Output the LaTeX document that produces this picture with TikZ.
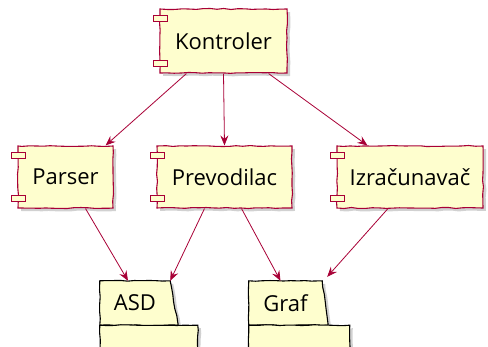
\documentclass[tikz,border=0pt]{standalone}
\usepackage{xcolor}
\usepackage{fontspec}
\setmainfont{Open Sans}
\usepackage{tikz}
\usetikzlibrary{positioning,calc,shadows,arrows.meta,decorations.pathmorphing}

\definecolor{umlred}{HTML}{A80036}
\definecolor{umlfill}{HTML}{FEFECE}

\tikzset{
    sketchy/.style={decorate, decoration={random steps, segment length=7pt, amplitude=0.5pt}},
    compbox/.style={draw=umlred, line width=1.1pt, fill=umlfill, sketchy, inner sep=0pt,
        font=\fontsize{22}{25}\selectfont,
        drop shadow={shadow xshift=3pt, shadow yshift=-3pt, fill=black!30, opacity=0.6}},
    comptab/.style={draw=umlred, line width=1.1pt, fill=umlfill},
    folderlbl/.style={inner sep=0pt, minimum width=70pt, minimum height=44pt,
        font=\fontsize{22}{25}\selectfont},
    folderline/.style={draw=black, line width=1.1pt, fill=umlfill, sketchy,
        drop shadow={shadow xshift=3pt, shadow yshift=-3pt, fill=black!30, opacity=0.6}},
    dep/.style={draw=umlred, line width=0.8pt, -{Stealth[length=10pt, width=8pt, inset=3.5pt]}}
}

\begin{document}
\pgfmathsetseed{7}
\begin{tikzpicture}[x=1pt, y=-1pt]
    \path[use as bounding box, clip] (0,0) rectangle (488,347);

    % Components
    \node[compbox, minimum width=127pt, minimum height=64pt] (K) at (223.5,41) {Kontroler};
    \node[compbox, minimum width=95pt, minimum height=62pt] (P) at (65.5,177) {Parser};
    \node[compbox, minimum width=135pt, minimum height=62pt] (V) at (224.5,177) {Prevodilac};
    \node[compbox, minimum width=146pt, minimum height=62pt] (I) at (410,177) {Izračunavač};

    % little tabs on the left side
    \foreach \c in {K,P,V,I} {
        \draw[comptab] ([xshift=-6pt,yshift=-7pt]\c.north west) rectangle ++(14,6);
        \draw[comptab] ([xshift=-6pt,yshift=13pt]\c.south west) rectangle ++(14,6);
    }

    % Folders
    \node[folderlbl] (ASD) at (135,303) {ASD};
    \node[folderlbl, minimum width=73pt] (G) at (285.5,303) {Graf};
    \draw[folderline] (ASD.north west) -- (ASD.north east) -- ([xshift=8pt]ASD.south east) -- (ASD.south west) -- cycle;
    \draw[folderline] (ASD.south west) rectangle ++(98,40);
    \draw[folderline] (G.north west) -- (G.north east) -- ([xshift=6pt]G.south east) -- (G.south west) -- cycle;
    \draw[folderline] (G.south west) rectangle ++(101,40);
    \node[folderlbl] at (ASD) {ASD};
    \node[folderlbl] at (G) {Graf};

    % Dependencies from Kontroler
    \draw[dep] ([xshift=27pt]K.south west) -- ([xshift=-8pt]P.north east);
    \draw[dep] (K.south) -- (V.north);
    \draw[dep] ([xshift=-19pt]K.south east) -- ([xshift=31pt]I.north west);

    % Dependencies to folders
    \draw[dep] ([xshift=20pt]P.south) -- ([xshift=-7pt]ASD.north);
    \draw[dep] ([xshift=-20pt]V.south) -- (ASD.north east);
    \draw[dep] ([xshift=17pt]V.south) -- ([xshift=-5pt]G.north);
    \draw[dep] ([xshift=-22pt]I.south) -- ([xshift=5pt,yshift=4pt]G.north east);

\end{tikzpicture}
\end{document}
